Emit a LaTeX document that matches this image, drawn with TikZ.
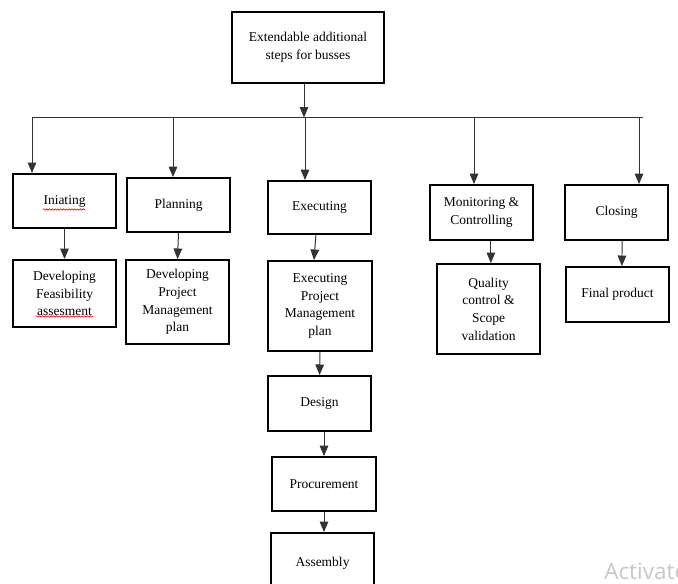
\documentclass[tikz,border=0pt]{standalone}
\usepackage{fontspec}
\setmainfont{Liberation Serif}
\newfontfamily\winfont{Open Sans}
\usepackage{tikz}
\tikzset{stepnode/.style={rectangle, draw=black, line width=1.4pt, align=center, inner sep=1pt,
minimum width=2.575cm, font=\fontsize{9.6}{12.6}\selectfont},
linkarrow/.style={draw=black!80, line width=0.7pt, -triangle 45},
spellmark/.style={red!85!black, line width=0.4pt, decorate, decoration={snake, amplitude=0.5pt, segment length=2pt}}}
\usetikzlibrary{arrows}
\usetikzlibrary{decorations.pathmorphing}

\begin{document}
\begin{tikzpicture}[x=0.025cm, y=-0.025cm]
\coordinate (NorthWest) at (0,0);
\coordinate (SouthEast) at (678,584);
\useasboundingbox (NorthWest) rectangle (SouthEast);
\clip (NorthWest) rectangle (SouthEast);

%%Top box
\node[stepnode, minimum width=3.8cm, minimum height=1.775cm] (Goal) at (308,47.5) {Extendable additional\\ steps for busses};

%%Phases
\node[stepnode, minimum height=1.35cm] (Init) at (64.5,201) {Iniating};
\node[stepnode, minimum height=1.35cm] (Plan) at (178.5,205) {Planning};
\node[stepnode, minimum height=1.325cm] (Exec) at (319.5,207.5) {Executing};
\node[stepnode, minimum height=1.375cm] (Moni) at (481.5,212.5) {Monitoring \&\\ Controlling};
\node[stepnode, minimum height=1.375cm] (Clos) at (616.5,212.5) {Closing};

%%Second row
\node[stepnode, minimum height=1.675cm] (Feas) at (64.5,293.5) {Developing\\ Feasibility\\ assesment};
\node[stepnode, minimum height=2.1cm] (DevPlan) at (177.5,302) {Developing\\ Project\\ Management\\ plan};
\node[stepnode, minimum width=2.6cm, minimum height=2.25cm] (ExePlan) at (320,306) {Executing\\ Project\\ Management\\ plan};
\node[stepnode, minimum height=2.25cm] (Qual) at (488.5,309) {Quality\\ control \&\\ Scope\\ validation};
\node[stepnode, minimum height=1.375cm] (Final) at (617.5,294.5) {Final product};

%%Executing chain
\node[stepnode, minimum height=1.375cm] (Design) at (319.5,403.5) {Design};
\node[stepnode, minimum width=2.6cm, minimum height=1.35cm] (Procure) at (324,484) {Procurement};
\node[stepnode, minimum height=1.5cm] (Assembly) at (322.5,563) {Assembly};

%%Bus
\coordinate (Hub) at (304,117.5);
\coordinate (BusL) at (32,117.5);
\coordinate (BusR) at (643,117.5);
\coordinate (b1) at (32,117.5);
\coordinate (b2) at (173,117.5);
\coordinate (b3) at (305,117.5);
\coordinate (b4) at (474,117.5);
\coordinate (b5) at (639,117.5);
\draw[draw=black!80, line width=0.9pt] (BusL) -- (BusR);
\draw[linkarrow] (Goal.south -| Hub) -- (Hub);
\draw[linkarrow] (b1) -- (b1 |- Init.north);
\draw[linkarrow] (b2) -- (b2 |- Plan.north);
\draw[linkarrow] (b3) -- (b3 |- Exec.north);
\draw[linkarrow] (b4) -- (b4 |- Moni.north);
\draw[linkarrow] (b5) -- (b5 |- Clos.north);

%%Columns
\draw[linkarrow] (Init.south) -- (Feas.north);
\draw[linkarrow] (Plan.south) -- (DevPlan.north);
\draw[linkarrow] ([xshift=-0.09cm]Exec.south) -- ([xshift=-0.15cm]ExePlan.north);
\draw[linkarrow] (ExePlan.south) -- (Design.north);
\draw[linkarrow] (Procure.north |- Design.south) -- (Procure.north);
\draw[linkarrow] (Procure.south) -- (Procure.south |- Assembly.north);
\draw[linkarrow] ([xshift=0.06cm]Qual.north |- Moni.south) -- ([xshift=0.06cm]Qual.north);
\draw[linkarrow] ([xshift=0.14cm]Clos.south) -- ([xshift=0.11cm]Final.north);

%%Spelling marks
\draw[spellmark] (43,209.5) -- (85,209.5);
\draw[spellmark] (36,316.5) -- (93,316.5);

%%Watermark
\node[anchor=base west, inner sep=0pt, text=black!22, font=\winfont\fontsize{16}{19}\selectfont] (Watermark) at (604,579) {Activate};

\end{tikzpicture}
\end{document}
